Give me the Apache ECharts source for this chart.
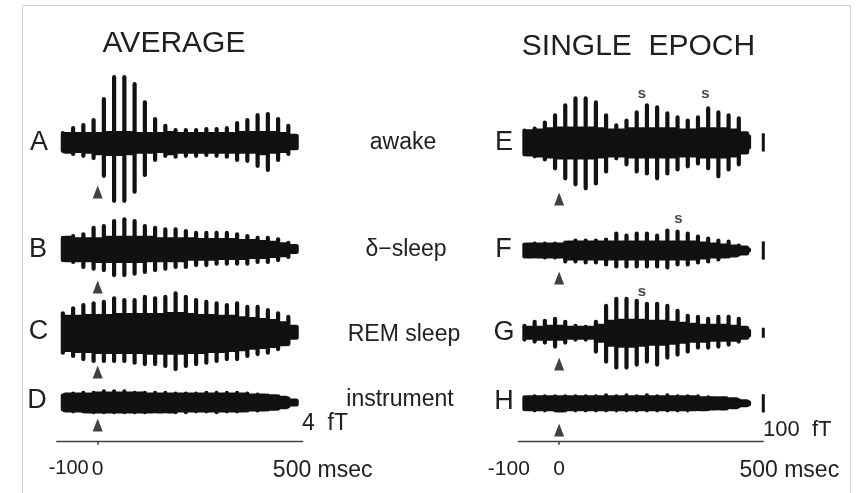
<!DOCTYPE html>
<html><head><meta charset="utf-8">
<script src="https://cdn.jsdelivr.net/npm/echarts@6/dist/echarts.min.js"></script>
<style>html,body{margin:0;padding:0;background:#fff}#c{width:856px;height:493px}</style>
</head><body><div id="c"></div>
<script>
// ---------------- DATA ----------------
// sample times (ms) of the half-cycle peaks
const sampleMs = [-85,-72.5,-60,-47.5,-35,-22.5,-10,2.5,15,27.5,40,52.5,65,77.5,90,102.5,115,127.5,140,152.5,165,177.5,190,202.5,215,227.5,240,252.5,265,277.5,290,302.5,315,327.5,340,352.5,365,377.5,390,402.5,415,427.5,440,452.5,465,477.5,490];

// AVERAGE column (fT): upper and lower envelope of each trace
const aUpper = [2.4,2.2,3.5,2.2,4.2,2.2,5.3,2.2,9.9,2.4, 14.7,2.4,14.7,2.4,13.2,2.2,9.2,2.2,5.5,2.2, 4.0,2.4,3.1,2.2,3.1,2.2,3.1,2.2,3.3,2.2, 3.3,2.2,3.5,2.2,4.6,2.4,5.3,2.4,6.4,2.4, 6.6,2.4,5.5,2.2,4.0,1.8,null];
const aLower = [-2.4,-2.6,-3.1,-2.4,-3.5,-2.6,-4.0,-2.9,-7.9,-3.1, -13.4,-3.1,-13.4,-2.9,-11.4,-2.6,-7.7,-2.6,-4.4,-2.4, -3.5,-2.9,-3.7,-2.6,-3.5,-2.6,-3.5,-2.6,-3.3,-2.6, -3.5,-2.6,-3.7,-2.6,-4.4,-2.6,-4.6,-2.6,-5.7,-2.9, -6.6,-2.6,-4.4,-2.4,-3.1,-1.8,null];
const bUpper = [2.9,2.9,3.3,2.6,3.7,2.6,5.1,2.6,5.5,2.9, 6.6,2.9,7.0,2.9,6.6,2.9,5.5,2.9,5.1,2.6, 4.8,2.6,4.8,2.6,4.4,2.6,4.0,2.4,4.0,2.4, 4.0,2.4,4.0,2.4,3.7,2.2,3.3,2.2,2.9,2.0, 2.9,1.8,2.6,1.5,1.8,1.1,null];
const bLower = [-2.9,-2.9,-3.3,-2.9,-4.4,-2.9,-4.8,-3.1,-5.1,-3.1, -6.2,-3.1,-6.2,-3.1,-5.9,-3.1,-5.5,-2.9,-5.1,-2.9, -4.8,-2.9,-4.4,-2.9,-4.4,-2.6,-4.0,-2.6,-4.0,-2.6, -3.7,-2.4,-3.7,-2.4,-3.7,-2.4,-3.7,-2.2,-3.3,-2.2, -3.3,-2.0,-2.9,-1.8,-2.2,-1.1,null];
const cUpper = [4.8,4.0,5.9,4.0,6.6,4.2,7.0,4.2,7.3,4.2, 8.1,4.4,7.7,4.4,7.7,4.4,8.4,4.4,8.1,4.4, 8.4,4.6,9.2,4.6,8.4,4.4,7.7,4.2,7.3,4.2, 7.0,4.0,6.6,4.0,7.0,3.7,6.2,3.5,6.2,3.3, 5.5,3.1,4.8,2.6,4.0,1.8,null];
const cLower = [-4.8,-4.2,-5.5,-4.4,-6.2,-4.4,-6.6,-4.6,-6.6,-4.6, -6.6,-4.6,-6.6,-4.6,-7.0,-4.6,-7.3,-4.8,-7.3,-4.8, -7.7,-4.8,-8.4,-4.8,-7.7,-4.6,-7.3,-4.6,-7.0,-4.4, -6.6,-4.4,-6.2,-4.2,-6.2,-4.0,-5.5,-3.7,-5.1,-3.5, -4.8,-3.3,-4.0,-2.9,-2.9,-1.5,null];
const dUpper = [2.0,2.2,2.4,2.2,2.6,2.2,2.6,2.4,2.9,2.4, 2.9,2.4,2.9,2.4,2.6,2.4,2.6,2.2,2.6,2.2, 2.6,2.2,2.4,2.2,2.4,2.2,2.4,2.2,2.6,2.2, 2.6,2.2,2.6,2.2,2.6,2.2,2.4,2.0,2.2,2.0, 2.0,1.8,1.8,1.5,1.3,0.9,null];
const dLower = [-2.0,-2.2,-2.4,-2.2,-2.4,-2.4,-2.6,-2.4,-2.6,-2.4, -2.6,-2.4,-2.6,-2.4,-2.6,-2.4,-2.6,-2.4,-2.4,-2.4, -2.4,-2.4,-2.6,-2.2,-2.6,-2.2,-2.4,-2.2,-2.4,-2.2, -2.6,-2.2,-2.4,-2.2,-2.4,-2.2,-2.2,-2.0,-2.2,-2.0, -2.0,-1.8,-1.8,-1.5,-1.3,-0.9,null];

// SINGLE EPOCH column (fT)
const eUpper = [77,72,88,77,121,83,160,88,215,88, 253,88,253,88,231,83,160,77,105,77, 132,83,176,83,215,83,204,83,171,83, 149,77,132,77,149,83,198,83,176,83, 160,77,143,61,44,null,null];
const eLower = [-77,-77,-88,-83,-105,-88,-154,-94,-209,-94, -242,-94,-264,-94,-237,-88,-171,-83,-99,-83, -132,-88,-171,-88,-182,-88,-209,-88,-182,-88, -160,-83,-143,-83,-127,-88,-154,-88,-198,-88, -160,-83,-132,-66,-39,null,null];
const fUpper = [44,44,50,44,50,44,50,44,55,55, 66,55,66,55,66,55,72,55,105,55, 94,55,105,55,105,55,94,55,121,55, 116,55,105,55,88,50,77,44,66,39, 61,33,39,28,17,null,null];
const fLower = [-44,-44,-44,-44,-50,-44,-50,-44,-72,-55, -72,-55,-77,-55,-77,-55,-88,-55,-99,-55, -99,-55,-99,-55,-99,-55,-99,-55,-105,-55, -88,-55,-88,-55,-77,-50,-72,-44,-61,-44, -44,-39,-33,-28,-11,null,null];
const gUpper = [90,70,130,70,140,80,160,80,130,70, 90,70,80,70,130,90,290,130,360,140, 360,140,340,140,310,130,310,130,290,120, 240,110,190,100,180,90,160,90,180,90, 180,80,160,70,40,null,null];
const gLower = [-90,-70,-110,-80,-120,-80,-160,-80,-120,-70, -90,-70,-90,-70,-210,-100,-310,-140,-370,-150, -370,-150,-340,-140,-310,-130,-340,-130,-270,-120, -240,-110,-210,-100,-170,-100,-170,-90,-160,-90, -140,-90,-110,-70,-50,null,null];
const hUpper = [44,44,50,44,50,44,50,44,50,44, 50,44,50,44,50,44,55,44,50,44, 55,44,50,44,55,44,50,44,55,44, 50,44,50,44,50,39,44,39,39,39, 33,33,28,22,17,null,null];
const hLower = [-44,-44,-50,-44,-50,-44,-50,-50,-50,-44, -50,-44,-50,-44,-50,-44,-50,-44,-50,-44, -50,-44,-50,-44,-50,-44,-50,-44,-50,-44, -50,-44,-50,-44,-44,-44,-44,-39,-39,-39, -33,-33,-28,-22,-17,null,null];

// spindle marks "s" (ms)
const eSpindleMs = [203, 358];
const fSpindleMs = [292];
const gSpindleMs = [203];

// axis ticks / labels
const tickLabelsMs = [-100, 0, 500];
const timeUnit = 'msec';
const scaleBarLeftFt = 4;
const scaleBarRightFt = 100;
const columnTitles = ['AVERAGE', 'SINGLE  EPOCH'];
const rowLetters = ['A','B','C','D','E','F','G','H'];
const stateLabels = ['awake', 'δ−sleep', 'REM sleep', 'instrument'];

// ---------------- LAYOUT / STYLE ----------------
const INK = '#111111';
const TXT = '#202020';
const FONT = '"Liberation Sans", Arial, Helvetica, sans-serif';
const cols = [
  {left: 56.7, width: 246, barMs: 512, axisY: 441.7, minSize: 20, minPad: [0, 0, 0, 24], maxPad: [0, 0, 0, 40]},
  {left: 518.3, width: 245, barMs: 500, axisY: 441.7, minSize: 21, minPad: [0, 19, 0, 0], maxPad: [0, 0, 0, 52]}
];
const rows = [
  {col:0, cy:142,   ppu:4.55,  up:aUpper, lo:aLower, bar:scaleBarLeftFt,  arrowPx:50},
  {col:0, cy:249,   ppu:4.55,  up:bUpper, lo:bLower, bar:scaleBarLeftFt,  arrowPx:38},
  {col:0, cy:333,   ppu:4.55,  up:cUpper, lo:cLower, bar:scaleBarLeftFt,  arrowPx:39},
  {col:0, cy:402.5, ppu:4.55,  up:dUpper, lo:dLower, bar:scaleBarLeftFt,  arrowPx:22.5},
  {col:1, cy:142.4, ppu:0.182, up:eUpper, lo:eLower, bar:scaleBarRightFt, arrowPx:56.5, spindles:eSpindleMs, sPx:49},
  {col:1, cy:250.5, ppu:0.182, up:fUpper, lo:fLower, bar:scaleBarRightFt, arrowPx:27.5, spindles:fSpindleMs, sPx:31.5},
  {col:1, cy:332.7, ppu:0.1,   up:gUpper, lo:gLower, bar:scaleBarRightFt, arrowPx:31.3, spindles:gSpindleMs, sPx:41},
  {col:1, cy:403.3, ppu:0.182, up:hUpper, lo:hLower, bar:scaleBarRightFt, arrowPx:26.7}
];
const HALF = 80;
const SPIKE_W = 4.2, CORE_W = 10.6;

const grid = [], xAxis = [], yAxis = [], series = [];
rows.forEach((r, gi) => {
  const c = cols[r.col];
  grid.push({left: c.left, width: c.width, top: r.cy - HALF, height: 2 * HALF});
  xAxis.push({gridIndex: gi, type: 'value', min: -100, max: 500, show: false});
  yAxis.push({gridIndex: gi, type: 'value', min: -HALF / r.ppu, max: HALF / r.ppu, show: false});

  const data = [];
  sampleMs.forEach((t, i) => { if (r.up[i] != null) data.push([t, r.up[i], r.lo[i], i]); });
  // odd samples = dense core (wide), even samples = oscillation peaks (narrow); cores drawn first
  data.sort((p, q) => (q[3] % 2) - (p[3] % 2));
  series.push({
    type: 'custom', xAxisIndex: gi, yAxisIndex: gi, clip: false, silent: true,
    encode: {x: 0, y: [1, 2]}, data,
    renderItem: (params, api) => {
      const t = api.value(0), hi = api.value(1), lo = api.value(2), k = api.value(3);
      const a = api.coord([t, hi]), b = api.coord([t, lo]);
      const w = (k % 2 === 0) ? SPIKE_W : CORE_W;
      const h = b[1] - a[1];
      const rr = (k % 2 === 0) ? Math.min(w / 2, h / 2) : Math.min(2.5, h / 2);
      return {type: 'rect', shape: {x: a[0] - w / 2, y: a[1], width: w, height: h, r: rr},
              style: {fill: INK}};
    }
  });
  // scale bar
  series.push({
    type: 'line', xAxisIndex: gi, yAxisIndex: gi, clip: false, silent: true, symbol: 'none',
    data: [[c.barMs, -r.bar / 2], [c.barMs, r.bar / 2]],
    lineStyle: {color: INK, width: 3, cap: 'butt'}
  });
  // stimulus arrow at 0 ms
  series.push({
    type: 'scatter', xAxisIndex: gi, yAxisIndex: gi, clip: false, silent: true,
    symbol: 'triangle', symbolSize: [10, 13], itemStyle: {color: INK},
    data: [[0, -r.arrowPx / r.ppu]]
  });
  if (r.spindles) {
    series.push({
      type: 'scatter', xAxisIndex: gi, yAxisIndex: gi, clip: false, silent: true,
      symbolSize: 1, itemStyle: {color: 'rgba(0,0,0,0)'},
      data: r.spindles.map(t => [t, r.sPx / r.ppu]),
      label: {show: true, position: 'inside', formatter: 's', color: INK, fontSize: 15, fontWeight: 'bold', fontFamily: FONT}
    });
  }
});

// time axes
cols.forEach((c, ci) => {
  const gi = grid.length;
  grid.push({left: c.left, width: c.width, top: c.axisY - 10, height: 10});
  xAxis.push({
    gridIndex: gi, type: 'value', min: -100, max: 500, interval: 100,
    axisLine: {show: true, lineStyle: {color: '#404040', width: 1.3}},
    axisTick: {show: true, customValues: [0], length: 3, lineStyle: {color: '#404040', width: 1.5}},
    splitLine: {show: false},
    axisLabel: {
      show: true, customValues: tickLabelsMs, margin: 17, color: TXT, fontSize: 21, fontFamily: FONT,
      showMinLabel: true, showMaxLabel: true, hideOverlap: false,
      alignMinLabel: 'center', alignMaxLabel: 'center',
      formatter: v => {
        if (tickLabelsMs.indexOf(v) < 0) return '';
        if (v === tickLabelsMs[tickLabelsMs.length - 1]) return '{u|' + v + ' ' + timeUnit + '}';
        if (v === tickLabelsMs[0]) return '{m|' + v + '}';
        return String(v);
      },
      rich: {
        u: {fontSize: 23, fontFamily: FONT, color: TXT, padding: c.maxPad},
        m: {fontSize: c.minSize, fontFamily: FONT, color: TXT, padding: c.minPad}
      }
    }
  });
  yAxis.push({gridIndex: gi, type: 'value', min: 0, max: 1, show: false});
});

const txt = (text, x, y, size, align) => ({
  type: 'text', x, y, silent: true,
  style: {text, fill: TXT, font: size + 'px ' + FONT, align: align || 'center', verticalAlign: 'middle'}
});
const letterPos = [[39,143],[38,250],[38.5,332],[37,401],[504,143],[503.5,250],[504,333],[504,402]];
const statePos = [[403,143],[406,250],[404,335],[400,400]];
const graphic = [
  {type: 'rect', shape: {x: 22.5, y: 5.5, width: 828, height: 495}, style: {fill: 'none', stroke: '#d2d2d2', lineWidth: 1}, silent: true},
  txt(columnTitles[0], 174, 44, 30),
  txt(columnTitles[1], 638.5, 47, 30),
  txt(scaleBarLeftFt + '  fT', 302, 423.5, 23, 'left'),
  txt(scaleBarRightFt + '  fT', 763, 429.5, 22, 'left')
];
rowLetters.forEach((l, i) => graphic.push(txt(l, letterPos[i][0], letterPos[i][1], 27)));
stateLabels.forEach((l, i) => graphic.push(txt(l, statePos[i][0], statePos[i][1], 23)));

const chart = echarts.init(document.getElementById('c'), null, {renderer: 'canvas'});
chart.setOption({animation: false, backgroundColor: '#fff', grid, xAxis, yAxis, series, graphic});
</script></body></html>
